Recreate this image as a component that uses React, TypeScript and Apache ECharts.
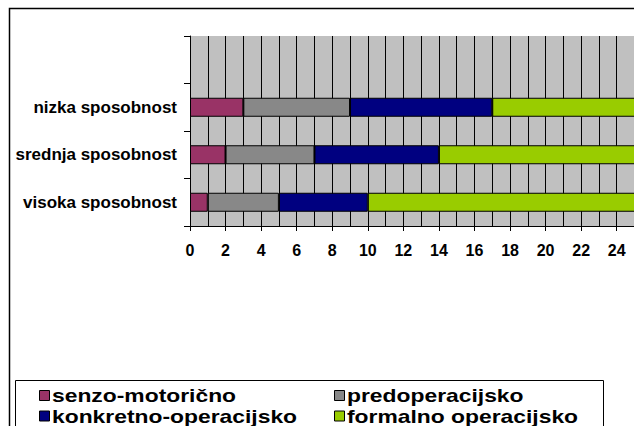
import React, { useEffect, useRef } from "react";
import * as echarts from "echarts";

// ---- data ----
const categories = ["visoka sposobnost", "srednja sposobnost", "nizka sposobnost", ""];
const seriesNames = ["senzo-motorično", "predoperacijsko", "konkretno-operacijsko", "formalno operacijsko"];
const senzoMotoricno = [1, 2, 3];
const predoperacijsko = [4, 5, 6];
const konkretnoOperacijsko = [5, 7, 8];
const formalnoOperacijsko = [20, 16, 13];
const xMin = 0;
const xMax = 30;
const xInterval = 2;
const lastVisibleTick = 24;

const seriesValues = [senzoMotoricno, predoperacijsko, konkretnoOperacijsko, formalnoOperacijsko];
const colors = ["#993366", "#888888", "#000080", "#99CC00"];

const FONT = "'Liberation Sans', Arial, Helvetica, sans-serif";

export default function App() {
  const ref = useRef<HTMLDivElement>(null);

  useEffect(() => {
    if (!ref.current) return;
    const chart = echarts.init(ref.current, undefined, { renderer: "svg" });

    const pxPerUnit = 17.78;
    const gridLeft = 190;
    const gridTop = 36;
    const gridHeight = 190;

    const legendCols = [39, 334];
    const legendRows = [390, 410.5];
    const legendItems: any[] = [];
    seriesNames.forEach((name, i) => {
      const col = legendCols[i % 2];
      const row = legendRows[Math.floor(i / 2)];
      legendItems.push({
        type: "rect",
        shape: { x: col + 0.5, y: row + 0.5, width: 10, height: 10 },
        style: { fill: colors[i], stroke: "#000", lineWidth: 1 },
        z: 10,
      });
      legendItems.push({
        type: "text",
        x: col + 13,
        y: row + 5.5,
        scaleX: 1.27,
        style: {
          text: name,
          x: 0,
          y: 0,
          fill: "#000",
          font: `bold 18px ${FONT}`,
          textVerticalAlign: "middle",
          textAlign: "left",
        },
        z: 10,
      });
    });

    chart.setOption({
      animation: false,
      backgroundColor: "#ffffff",
      textStyle: { fontFamily: FONT },
      grid: {
        left: gridLeft,
        top: gridTop,
        width: (xMax - xMin) * pxPerUnit,
        height: gridHeight,
        show: true,
        backgroundColor: "#C0C0C0",
        borderWidth: 0,
        containLabel: false,
      },
      xAxis: {
        type: "value",
        min: xMin,
        max: xMax,
        interval: xInterval,
        axisLine: { show: true, lineStyle: { color: "#000", width: 1 } },
        axisTick: { show: true, length: 5, lineStyle: { color: "#000" } },
        axisLabel: {
          color: "#000",
          fontWeight: "bold",
          fontSize: 16,
          fontFamily: FONT,
          margin: 16,
          formatter: (v: number) => (v <= lastVisibleTick ? String(v) : ""),
        },
        splitLine: { show: true, lineStyle: { color: "#000", width: 1 } },
        minorTick: { show: false, splitNumber: 2 },
        minorSplitLine: { show: true, lineStyle: { color: "#000", width: 1 } },
      },
      yAxis: {
        type: "category",
        data: categories,
        boundaryGap: true,
        axisLine: { show: true, lineStyle: { color: "#000", width: 1 } },
        axisTick: { show: true, length: 6, alignWithLabel: false, lineStyle: { color: "#000" } },
        axisLabel: {
          color: "#000",
          fontWeight: "bold",
          fontSize: 17,
          fontFamily: FONT,
          margin: 13,
        },
        splitLine: { show: false },
      },
      series: seriesNames.map((name, i) => ({
        name,
        type: "bar",
        stack: "total",
        data: seriesValues[i],
        barWidth: 19,
        itemStyle: { color: colors[i], borderColor: "#000", borderWidth: 1 },
      })),
      graphic: [
        {
          type: "rect",
          shape: { x: 9.5, y: 8.5, width: 740, height: 500 },
          style: { fill: "none", stroke: "#000", lineWidth: 1.5 },
          z: 0,
          silent: true,
        },
        {
          type: "rect",
          shape: { x: 15.5, y: 380.5, width: 588, height: 120 },
          style: { fill: "#fff", stroke: "#000", lineWidth: 1 },
          z: 5,
          silent: true,
        },
        ...legendItems,
      ],
    });

    return () => chart.dispose();
  }, []);

  return (
    <div
      style={{
        position: "fixed",
        left: 0,
        top: 0,
        width: 634,
        height: 426,
        overflow: "hidden",
        background: "#fff",
      }}
    >
      <div ref={ref} style={{ width: 760, height: 480 }} />
    </div>
  );
}
